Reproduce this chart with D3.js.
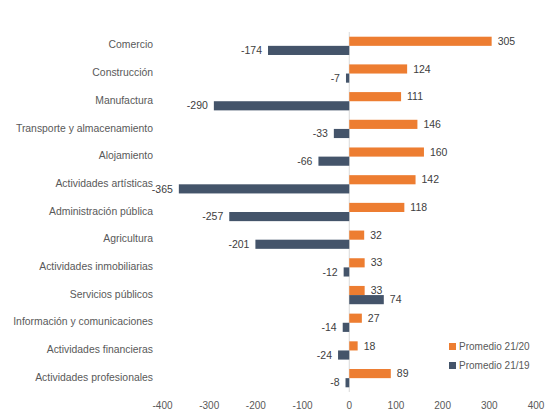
<!DOCTYPE html>
<html>
<head>
<meta charset="utf-8">
<script src="https://d3js.org/d3.v7.min.js"></script>
<style>
  body { margin: 0; background: #fff; }
  svg text { font-family: "Liberation Sans", "DejaVu Sans", sans-serif; fill: #595959; }
</style>
</head>
<body>
<svg id="chart" width="548" height="412"></svg>
<script>
// data
const categories = ['Comercio', 'Construcción', 'Manufactura', 'Transporte y almacenamiento',
  'Alojamiento', 'Actividades artísticas', 'Administración pública', 'Agricultura',
  'Actividades inmobiliarias', 'Servicios públicos', 'Información y comunicaciones',
  'Actividades financieras', 'Actividades profesionales'];
const prom2120 = [305, 124, 111, 146, 160, 142, 118, 32, 33, 33, 27, 18, 89];
const prom2119 = [-174, -7, -290, -33, -66, -365, -257, -201, -12, 74, -14, -24, -8];
const seriesNames = ['Promedio 21/20', 'Promedio 21/19'];
const xTicks = [-400, -300, -200, -100, 0, 100, 200, 300, 400];

const colors = ['#ED7D31', '#44546A'];
const svg = d3.select('#chart');

const x = d3.scaleLinear().domain([-400, 400]).range([162.5, 536]);
const y = d3.scaleBand().domain(categories).range([32, 392]).paddingInner(0.34).paddingOuter(0.17);
const sub = d3.scaleBand().domain([0, 1]).range([0, y.bandwidth()]);

const rows = categories.map((c, i) => ({ c, v: [prom2120[i], prom2119[i]] }));

// zero line
svg.append('line')
  .attr('x1', x(0)).attr('x2', x(0))
  .attr('y1', 32).attr('y2', 392)
  .attr('stroke', '#d9d9d9').attr('stroke-width', 1);

const g = svg.append('g');
rows.forEach(r => {
  r.v.forEach((v, k) => {
    const y0 = y(r.c) + sub(k);
    g.append('rect')
      .attr('x', x(Math.min(0, v)))
      .attr('y', y0)
      .attr('width', Math.abs(x(v) - x(0)))
      .attr('height', sub.bandwidth())
      .attr('fill', colors[k]);
    g.append('text')
      .attr('x', v >= 0 ? x(v) + 6 : x(v) - 6)
      .attr('y', y0 + sub.bandwidth() / 2)
      .attr('dy', '0.35em')
      .attr('text-anchor', v >= 0 ? 'start' : 'end')
      .attr('font-size', 10.5)
      .style('fill', '#404040')
      .text(v);
  });
});

// category labels
svg.append('g').selectAll('text').data(categories).join('text')
  .attr('x', 153)
  .attr('y', d => y(d) + y.bandwidth() / 2 - 1)
  .attr('dy', '0.35em')
  .attr('text-anchor', 'end')
  .attr('font-size', 10.4)
  .text(d => d);

// x tick labels
svg.append('g').selectAll('text').data(xTicks).join('text')
  .attr('x', d => x(d))
  .attr('y', 405)
  .attr('dy', '0.35em')
  .attr('text-anchor', 'middle')
  .attr('font-size', 10)
  .text(d => d);

// legend
const leg = svg.append('g').attr('transform', 'translate(449,343)');
seriesNames.forEach((s, k) => {
  leg.append('rect').attr('x', 0).attr('y', k * 19).attr('width', 7).attr('height', 7).attr('fill', colors[k]);
  leg.append('text').attr('x', 10).attr('y', k * 19 + 3.5).attr('dy', '0.35em')
    .attr('font-size', 10).text(s);
});
</script>
</body>
</html>
